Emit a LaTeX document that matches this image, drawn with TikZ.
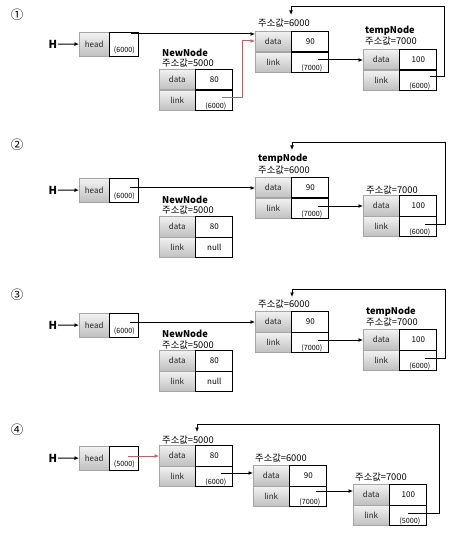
\documentclass[tikz,border=0pt]{standalone}
\usepackage{fontspec}
\newfontfamily\kr{Noto Sans CJK KR}
\usetikzlibrary{arrows.meta}
\definecolor{linkred}{RGB}{196,96,100}
\tikzset{
  gcell/.style={draw=gray!70, top color=gray!10, bottom color=gray!50,
    minimum width=36pt, minimum height=20.5pt, inner sep=0pt, anchor=north west,
    font=\kr\fontsize{8}{9}\selectfont, text=black!85},
  wcell/.style={draw=black, fill=white, line width=0.8pt,
    minimum width=37pt, minimum height=20.5pt, inner sep=0pt, anchor=north west,
    font=\kr\fontsize{8}{9}\selectfont},
  hgcell/.style={gcell, minimum width=30pt, minimum height=24pt},
  hwcell/.style={wcell, minimum width=29pt, minimum height=24pt},
  ptrtxt/.style={font=\kr\fontsize{7.2}{8}\selectfont, inner sep=0pt, anchor=base},
  lbl/.style={font=\kr\fontsize{9.3}{10}\selectfont, anchor=west, inner sep=0pt},
  blbl/.style={font=\kr\bfseries\fontsize{9.3}{10}\selectfont, anchor=west, inner sep=0pt},
  hlbl/.style={font=\kr\bfseries\fontsize{11}{12}\selectfont, inner sep=0.5pt},
  numlbl/.style={font=\kr\fontsize{12.5}{13}\selectfont, inner sep=0pt},
  arr/.style={-{Latex[length=4.5pt,width=4pt]}, line width=1pt},
  redarr/.style={arr, draw=linkred},
}
% #1 name, #2 x, #3 y (top-left), #4 data value, #5 centred link text, #6 bottom link text
\newcommand\listnode[6]{%
  \node[gcell] (#1dg) at (#2,#3) {data};
  \node[wcell] (#1dv) at (#1dg.north east) {#4};
  \node[gcell] (#1lg) at (#1dg.south west) {link};
  \node[wcell] (#1lv) at (#1lg.north east) {#5};
  \node[ptrtxt] (#1lt) at ([xshift=1.5pt,yshift=3pt]#1lv.south) {#6};
}
% #1 name, #2 x, #3 y, #4 pointer text
\newcommand\headbox[4]{%
  \node[hgcell] (#1hg) at (#2,#3) {head};
  \node[hwcell] (#1hv) at (#1hg.north east) {};
  \node[ptrtxt] (#1ht) at ([yshift=4.5pt]#1hv.south) {#4};
}
\begin{document}
\begin{tikzpicture}[x=1pt,y=-1pt]
\useasboundingbox[fill=white] (0,0) rectangle (462,553);

% ---------------- panel 1 ----------------
\node[numlbl] (n1) at (17,15) {①};
\headbox{a}{79}{32}{(6000)}
\node[hlbl] (aH) at (53,44) {H};
\draw[arr] (aH) -- (ahg);
\node[blbl] (anl) at (162,53) {NewNode};
\node[lbl] (anl2) at (162,63) {주소값=5000};
\listnode{an}{159}{69}{80}{}{(6000)}
\node[lbl] (a6l) at (258,23) {주소값=6000};
\listnode{a6}{255}{31}{90}{}{(7000)}
\node[blbl] (a7l) at (365,31) {tempNode};
\node[lbl] (a7l2) at (365,41) {주소값=7000};
\listnode{a7}{363}{49}{100}{}{(6000)}
\coordinate (ahs) at (131,34);
\draw[arr] (ahs) -- (ahs -| a6dg.west);
\coordinate (ans) at (222,98);
\coordinate (ane) at (255,41);
\draw[redarr] (ans) -- (242,98) |- (ane);
\coordinate (a6s) at (318,60);
\draw[arr] (a6s) -- (a6s -| a7dg.west);
\coordinate (a7s) at (430,77);
\coordinate (a7e) at (291,15);
\draw[arr] (a7s) -- (444,77) |- (291,7) -- (a7e);

% ---------------- panel 2 ----------------
\node[numlbl] (n2) at (17,145) {②};
\headbox{b}{79}{178}{(6000)}
\node[hlbl] (bH) at (53,190) {H};
\draw[arr] (bH) -- (bhg);
\node[blbl] (bnl) at (162,200) {NewNode};
\node[lbl] (bnl2) at (162,210) {주소값=5000};
\listnode{bn}{159}{216}{80}{null}{}
\node[blbl] (b6l) at (258,159) {tempNode};
\node[lbl] (b6l2) at (258,170) {주소값=6000};
\listnode{b6}{255}{177}{90}{}{(7000)}
\node[lbl] (b7l) at (366,190) {주소값=7000};
\listnode{b7}{363}{195}{100}{}{(6000)}
\coordinate (bhs) at (130,188);
\draw[arr] (bhs) -- (bhs -| b6dg.west);
\coordinate (b6s) at (318,206);
\draw[arr] (b6s) -- (b6s -| b7dg.west);
\coordinate (b7s) at (425,224);
\coordinate (b7e) at (292,150);
\draw[arr] (b7s) -- (445,224) |- (292,143) -- (b7e);

% ---------------- panel 3 ----------------
\node[numlbl] (n3) at (17,295) {③};
\headbox{c}{79}{313}{(6000)}
\node[hlbl] (cH) at (53,325) {H};
\draw[arr] (cH) -- (chg);
\node[blbl] (cnl) at (162,334) {NewNode};
\node[lbl] (cnl2) at (162,345) {주소값=5000};
\listnode{cn}{159}{350}{80}{null}{}
\node[lbl] (c6l) at (258,304) {주소값=6000};
\listnode{c6}{255}{311}{90}{}{(7000)}
\node[blbl] (c7l) at (366,312) {tempNode};
\node[lbl] (c7l2) at (366,322) {주소값=7000};
\listnode{c7}{363}{329}{100}{}{(6000)}
\coordinate (chs) at (130,322);
\draw[arr] (chs) -- (chs -| c6dg.west);
\coordinate (c6s) at (318,340);
\draw[arr] (c6s) -- (c6s -| c7dg.west);
\coordinate (c7s) at (425,358);
\coordinate (c7e) at (292,297);
\draw[arr] (c7s) -- (445,358) |- (292,289) -- (c7e);

% ---------------- panel 4 ----------------
\node[numlbl] (n4) at (17,430) {④};
\headbox{d}{79}{446}{(5000)}
\node[hlbl] (dH) at (53,458) {H};
\draw[arr] (dH) -- (dhg);
\node[lbl] (d5l) at (162,440) {주소값=5000};
\listnode{d5}{159}{445}{80}{}{(6000)}
\node[lbl] (d6l) at (255,458) {주소값=6000};
\listnode{d6}{253}{465}{90}{}{(7000)}
\node[lbl] (d7l) at (355,477) {주소값=7000};
\listnode{d7}{353}{484}{100}{}{(5000)}
\coordinate (dhs) at (128,456);
\draw[redarr] (dhs) -- (dhs -| d5dg.west);
\coordinate (d5s) at (221,473);
\draw[arr] (d5s) -- (d5s -| d6dg.west);
\coordinate (d6s) at (316,491);
\draw[arr] (d6s) -- (d6s -| d7dg.west);
\coordinate (d7s) at (408,513);
\coordinate (d7e) at (197,432);
\draw[arr] (d7s) -- (439,513) |- (197,424) -- (d7e);
\end{tikzpicture}
\end{document}
